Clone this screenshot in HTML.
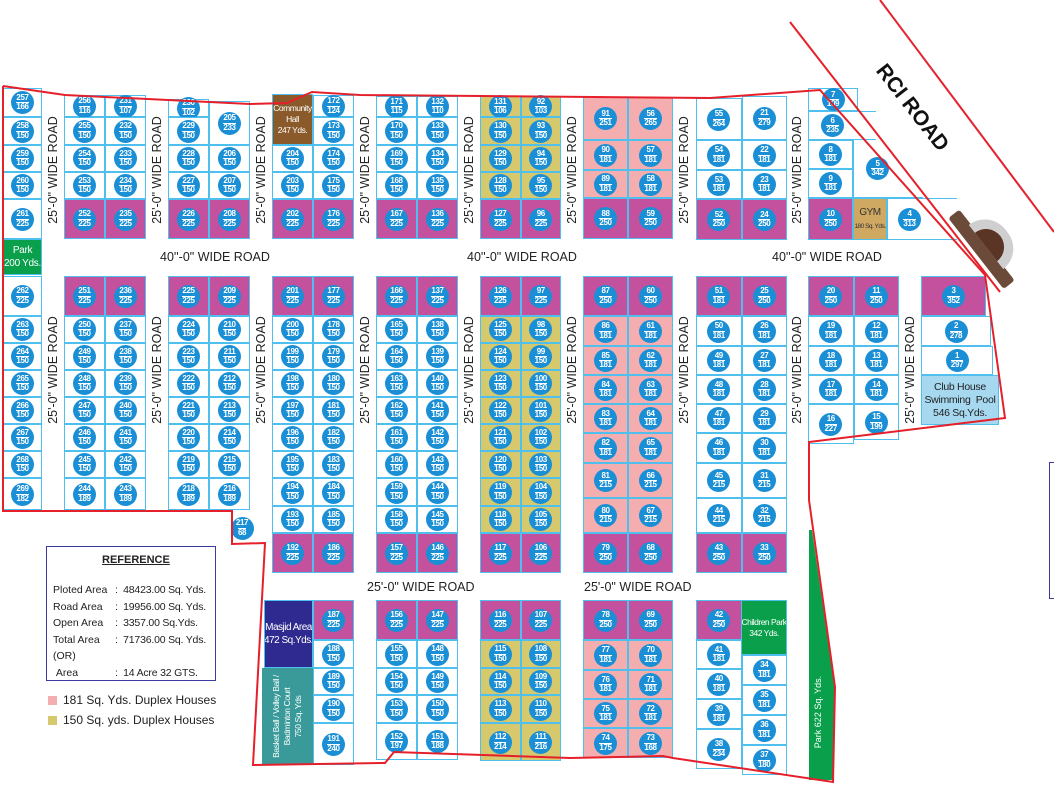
<!DOCTYPE html>
<html><head><meta charset="utf-8"><style>
body{margin:0;width:1054px;height:786px;background:#fff;position:relative;overflow:hidden;font-family:"Liberation Sans",sans-serif}
.bk{position:absolute;top:0;height:786px}
.p{position:absolute;border:1px solid #4fc0ee;box-sizing:border-box;display:flex;align-items:center;justify-content:center;background:#fff}
.l{left:0;width:50%}.r{left:50%;width:50%}.f{left:0;width:100%}
.u{background:#c3519e}.k{background:#f4aeb0}.o{background:#d6c86c}
.p b{flex-shrink:0;width:23px;height:23px;border-radius:50%;background:#1a8fd6;color:#fff;font:bold 8px "Liberation Sans",sans-serif;letter-spacing:-0.4px;display:flex;flex-direction:column;align-items:center;justify-content:center;line-height:8.5px}
.p b i{font-style:normal;border-top:1px solid #fff}
.vr{position:absolute;width:22px;height:130px;display:flex;align-items:center;justify-content:center}
.vr span{transform:rotate(-90deg);white-space:nowrap;font-size:12.5px;color:#222}
.hr{position:absolute;font-size:12.5px;color:#222;white-space:nowrap}
.t{position:absolute;display:flex;align-items:center;justify-content:center;text-align:center;box-sizing:border-box;border:1px solid #4fc0ee;color:#fff;font:9px "Liberation Sans",sans-serif;letter-spacing:-0.3px;line-height:11px;white-space:nowrap;overflow:hidden}
</style></head><body>

<!-- Column A -->
<div class="bk" style="left:3px;width:39px">
<div class="p f" style="top:88px;height:29px"><b>257<i>166</i></b></div>
<div class="p f" style="top:117px;height:28px"><b>258<i>150</i></b></div>
<div class="p f" style="top:145px;height:27px"><b>259<i>150</i></b></div>
<div class="p f" style="top:172px;height:27px"><b>260<i>150</i></b></div>
<div class="p f" style="top:199px;height:40px"><b>261<i>225</i></b></div>
<div class="t" style="left:0;top:239px;width:39px;height:36px;background:#0aa04b;font-size:10px;line-height:13px">Park<br>200 Yds.</div>
<div class="p f" style="top:276px;height:40px"><b>262<i>225</i></b></div>
<div class="p f" style="top:316px;height:27px"><b>263<i>150</i></b></div>
<div class="p f" style="top:343px;height:27px"><b>264<i>150</i></b></div>
<div class="p f" style="top:370px;height:27px"><b>265<i>150</i></b></div>
<div class="p f" style="top:397px;height:27px"><b>266<i>150</i></b></div>
<div class="p f" style="top:424px;height:27px"><b>267<i>150</i></b></div>
<div class="p f" style="top:451px;height:27px"><b>268<i>150</i></b></div>
<div class="p f" style="top:478px;height:32px"><b>269<i>182</i></b></div>
</div>

<!-- B1 -->
<div class="bk" style="left:64px;width:82px">
<div class="p l" style="top:95px;height:22px"><b>256<i>116</i></b></div>
<div class="p r" style="top:95px;height:22px"><b>231<i>107</i></b></div>
<div class="p l" style="top:117px;height:28px"><b>255<i>150</i></b></div>
<div class="p r" style="top:117px;height:28px"><b>232<i>150</i></b></div>
<div class="p l" style="top:145px;height:27px"><b>254<i>150</i></b></div>
<div class="p r" style="top:145px;height:27px"><b>233<i>150</i></b></div>
<div class="p l" style="top:172px;height:27px"><b>253<i>150</i></b></div>
<div class="p r" style="top:172px;height:27px"><b>234<i>150</i></b></div>
<div class="p l u" style="top:199px;height:40px"><b>252<i>225</i></b></div>
<div class="p r u" style="top:199px;height:40px"><b>235<i>225</i></b></div>
<div class="p l u" style="top:276px;height:40px"><b>251<i>225</i></b></div>
<div class="p r u" style="top:276px;height:40px"><b>236<i>225</i></b></div>
<div class="p l" style="top:316px;height:27px"><b>250<i>150</i></b></div>
<div class="p r" style="top:316px;height:27px"><b>237<i>150</i></b></div>
<div class="p l" style="top:343px;height:27px"><b>249<i>150</i></b></div>
<div class="p r" style="top:343px;height:27px"><b>238<i>150</i></b></div>
<div class="p l" style="top:370px;height:27px"><b>248<i>150</i></b></div>
<div class="p r" style="top:370px;height:27px"><b>239<i>150</i></b></div>
<div class="p l" style="top:397px;height:27px"><b>247<i>150</i></b></div>
<div class="p r" style="top:397px;height:27px"><b>240<i>150</i></b></div>
<div class="p l" style="top:424px;height:27px"><b>246<i>150</i></b></div>
<div class="p r" style="top:424px;height:27px"><b>241<i>150</i></b></div>
<div class="p l" style="top:451px;height:27px"><b>245<i>150</i></b></div>
<div class="p r" style="top:451px;height:27px"><b>242<i>150</i></b></div>
<div class="p l" style="top:478px;height:32px"><b>244<i>189</i></b></div>
<div class="p r" style="top:478px;height:32px"><b>243<i>189</i></b></div>
</div>

<!-- B2 -->
<div class="bk" style="left:168px;width:82px">
<div class="p l" style="top:99px;height:18px"><b>230<i>102</i></b></div>
<div class="p r" style="top:101px;height:44px"><b>205<i>233</i></b></div>
<div class="p l" style="top:117px;height:28px"><b>229<i>150</i></b></div>
<div class="p l" style="top:145px;height:27px"><b>228<i>150</i></b></div>
<div class="p r" style="top:145px;height:27px"><b>206<i>150</i></b></div>
<div class="p l" style="top:172px;height:27px"><b>227<i>150</i></b></div>
<div class="p r" style="top:172px;height:27px"><b>207<i>150</i></b></div>
<div class="p l u" style="top:199px;height:40px"><b>226<i>225</i></b></div>
<div class="p r u" style="top:199px;height:40px"><b>208<i>225</i></b></div>
<div class="p l u" style="top:276px;height:40px"><b>225<i>225</i></b></div>
<div class="p r u" style="top:276px;height:40px"><b>209<i>225</i></b></div>
<div class="p l" style="top:316px;height:27px"><b>224<i>150</i></b></div>
<div class="p r" style="top:316px;height:27px"><b>210<i>150</i></b></div>
<div class="p l" style="top:343px;height:27px"><b>223<i>150</i></b></div>
<div class="p r" style="top:343px;height:27px"><b>211<i>150</i></b></div>
<div class="p l" style="top:370px;height:27px"><b>222<i>150</i></b></div>
<div class="p r" style="top:370px;height:27px"><b>212<i>150</i></b></div>
<div class="p l" style="top:397px;height:27px"><b>221<i>150</i></b></div>
<div class="p r" style="top:397px;height:27px"><b>213<i>150</i></b></div>
<div class="p l" style="top:424px;height:27px"><b>220<i>150</i></b></div>
<div class="p r" style="top:424px;height:27px"><b>214<i>150</i></b></div>
<div class="p l" style="top:451px;height:27px"><b>219<i>150</i></b></div>
<div class="p r" style="top:451px;height:27px"><b>215<i>150</i></b></div>
<div class="p l" style="top:478px;height:32px"><b>218<i>189</i></b></div>
<div class="p r" style="top:478px;height:32px"><b>216<i>189</i></b></div>
</div>
<div class="p" style="left:230px;top:512px;width:24px;height:32px;border-color:#fff;background:transparent"><b>217<i>68</i></b></div>

<!-- B3 -->
<div class="bk" style="left:272px;width:82px">
<div class="t" style="left:0;top:94px;width:41px;height:51px;background:#8a5a2b;font-size:8.5px;letter-spacing:-0.5px">Community<br>Hall<br>247 Yds.</div>
<div class="p r" style="top:95px;height:22px"><b>172<i>124</i></b></div>
<div class="p r" style="top:117px;height:28px"><b>173<i>150</i></b></div>
<div class="p l" style="top:145px;height:27px"><b>204<i>150</i></b></div>
<div class="p r" style="top:145px;height:27px"><b>174<i>150</i></b></div>
<div class="p l" style="top:172px;height:27px"><b>203<i>150</i></b></div>
<div class="p r" style="top:172px;height:27px"><b>175<i>150</i></b></div>
<div class="p l u" style="top:199px;height:40px"><b>202<i>225</i></b></div>
<div class="p r u" style="top:199px;height:40px"><b>176<i>225</i></b></div>
<div class="p l u" style="top:276px;height:40px"><b>201<i>225</i></b></div>
<div class="p r u" style="top:276px;height:40px"><b>177<i>225</i></b></div>
<div class="p l" style="top:316px;height:27px"><b>200<i>150</i></b></div>
<div class="p r" style="top:316px;height:27px"><b>178<i>150</i></b></div>
<div class="p l" style="top:343px;height:27px"><b>199<i>150</i></b></div>
<div class="p r" style="top:343px;height:27px"><b>179<i>150</i></b></div>
<div class="p l" style="top:370px;height:27px"><b>198<i>150</i></b></div>
<div class="p r" style="top:370px;height:27px"><b>180<i>150</i></b></div>
<div class="p l" style="top:397px;height:27px"><b>197<i>150</i></b></div>
<div class="p r" style="top:397px;height:27px"><b>181<i>150</i></b></div>
<div class="p l" style="top:424px;height:27px"><b>196<i>150</i></b></div>
<div class="p r" style="top:424px;height:27px"><b>182<i>150</i></b></div>
<div class="p l" style="top:451px;height:27px"><b>195<i>150</i></b></div>
<div class="p r" style="top:451px;height:27px"><b>183<i>150</i></b></div>
<div class="p l" style="top:478px;height:28px"><b>194<i>150</i></b></div>
<div class="p r" style="top:478px;height:28px"><b>184<i>150</i></b></div>
<div class="p l" style="top:506px;height:27px"><b>193<i>150</i></b></div>
<div class="p r" style="top:506px;height:27px"><b>185<i>150</i></b></div>
<div class="p l u" style="top:533px;height:40px"><b>192<i>225</i></b></div>
<div class="p r u" style="top:533px;height:40px"><b>186<i>225</i></b></div>
<div class="t" style="left:-8px;top:600px;width:49px;height:68px;background:#2e2a8f;font-size:10px;line-height:13px;letter-spacing:-0.5px">Masjid Area<br>472 Sq.Yds.</div>
<div class="t" style="left:-10px;top:668px;width:51px;height:97px;background:#3a9a9a;border:none;overflow:visible"><div style="transform:rotate(-90deg);white-space:nowrap;font-size:8.5px;line-height:11px;letter-spacing:-0.4px">Basket Ball / Volley Ball /<br>Badminton Court<br>750 Sq. Yds</div></div>
<div class="p r u" style="top:600px;height:40px"><b>187<i>225</i></b></div>
<div class="p r" style="top:640px;height:28px"><b>188<i>150</i></b></div>
<div class="p r" style="top:668px;height:27px"><b>189<i>150</i></b></div>
<div class="p r" style="top:695px;height:28px"><b>190<i>150</i></b></div>
<div class="p r" style="top:723px;height:42px"><b>191<i>240</i></b></div>
</div>

<!-- B4 -->
<div class="bk" style="left:376px;width:82px">
<div class="p l" style="top:96px;height:21px"><b>171<i>115</i></b></div>
<div class="p r" style="top:96px;height:21px"><b>132<i>110</i></b></div>
<div class="p l" style="top:117px;height:28px"><b>170<i>150</i></b></div>
<div class="p r" style="top:117px;height:28px"><b>133<i>150</i></b></div>
<div class="p l" style="top:145px;height:27px"><b>169<i>150</i></b></div>
<div class="p r" style="top:145px;height:27px"><b>134<i>150</i></b></div>
<div class="p l" style="top:172px;height:27px"><b>168<i>150</i></b></div>
<div class="p r" style="top:172px;height:27px"><b>135<i>150</i></b></div>
<div class="p l u" style="top:199px;height:40px"><b>167<i>225</i></b></div>
<div class="p r u" style="top:199px;height:40px"><b>136<i>225</i></b></div>
<div class="p l u" style="top:276px;height:40px"><b>166<i>225</i></b></div>
<div class="p r u" style="top:276px;height:40px"><b>137<i>225</i></b></div>
<div class="p l" style="top:316px;height:27px"><b>165<i>150</i></b></div>
<div class="p r" style="top:316px;height:27px"><b>138<i>150</i></b></div>
<div class="p l" style="top:343px;height:27px"><b>164<i>150</i></b></div>
<div class="p r" style="top:343px;height:27px"><b>139<i>150</i></b></div>
<div class="p l" style="top:370px;height:27px"><b>163<i>150</i></b></div>
<div class="p r" style="top:370px;height:27px"><b>140<i>150</i></b></div>
<div class="p l" style="top:397px;height:27px"><b>162<i>150</i></b></div>
<div class="p r" style="top:397px;height:27px"><b>141<i>150</i></b></div>
<div class="p l" style="top:424px;height:27px"><b>161<i>150</i></b></div>
<div class="p r" style="top:424px;height:27px"><b>142<i>150</i></b></div>
<div class="p l" style="top:451px;height:27px"><b>160<i>150</i></b></div>
<div class="p r" style="top:451px;height:27px"><b>143<i>150</i></b></div>
<div class="p l" style="top:478px;height:28px"><b>159<i>150</i></b></div>
<div class="p r" style="top:478px;height:28px"><b>144<i>150</i></b></div>
<div class="p l" style="top:506px;height:27px"><b>158<i>150</i></b></div>
<div class="p r" style="top:506px;height:27px"><b>145<i>150</i></b></div>
<div class="p l u" style="top:533px;height:40px"><b>157<i>225</i></b></div>
<div class="p r u" style="top:533px;height:40px"><b>146<i>225</i></b></div>
<div class="p l u" style="top:600px;height:40px"><b>156<i>225</i></b></div>
<div class="p r u" style="top:600px;height:40px"><b>147<i>225</i></b></div>
<div class="p l" style="top:640px;height:28px"><b>155<i>150</i></b></div>
<div class="p r" style="top:640px;height:28px"><b>148<i>150</i></b></div>
<div class="p l" style="top:668px;height:27px"><b>154<i>150</i></b></div>
<div class="p r" style="top:668px;height:27px"><b>149<i>150</i></b></div>
<div class="p l" style="top:695px;height:28px"><b>153<i>150</i></b></div>
<div class="p r" style="top:695px;height:28px"><b>150<i>150</i></b></div>
<div class="p l" style="top:723px;height:37px"><b>152<i>197</i></b></div>
<div class="p r" style="top:723px;height:37px"><b>151<i>188</i></b></div>
</div>

<!-- B5 -->
<div class="bk" style="left:480px;width:81px">
<div class="p l o" style="top:96px;height:21px"><b>131<i>106</i></b></div>
<div class="p r o" style="top:96px;height:21px"><b>92<i>103</i></b></div>
<div class="p l o" style="top:117px;height:28px"><b>130<i>150</i></b></div>
<div class="p r o" style="top:117px;height:28px"><b>93<i>150</i></b></div>
<div class="p l o" style="top:145px;height:27px"><b>129<i>150</i></b></div>
<div class="p r o" style="top:145px;height:27px"><b>94<i>150</i></b></div>
<div class="p l o" style="top:172px;height:27px"><b>128<i>150</i></b></div>
<div class="p r o" style="top:172px;height:27px"><b>95<i>150</i></b></div>
<div class="p l u" style="top:199px;height:40px"><b>127<i>225</i></b></div>
<div class="p r u" style="top:199px;height:40px"><b>96<i>225</i></b></div>
<div class="p l u" style="top:276px;height:40px"><b>126<i>225</i></b></div>
<div class="p r u" style="top:276px;height:40px"><b>97<i>225</i></b></div>
<div class="p l o" style="top:316px;height:27px"><b>125<i>150</i></b></div>
<div class="p r o" style="top:316px;height:27px"><b>98<i>150</i></b></div>
<div class="p l o" style="top:343px;height:27px"><b>124<i>150</i></b></div>
<div class="p r o" style="top:343px;height:27px"><b>99<i>150</i></b></div>
<div class="p l o" style="top:370px;height:27px"><b>123<i>150</i></b></div>
<div class="p r o" style="top:370px;height:27px"><b>100<i>150</i></b></div>
<div class="p l o" style="top:397px;height:27px"><b>122<i>150</i></b></div>
<div class="p r o" style="top:397px;height:27px"><b>101<i>150</i></b></div>
<div class="p l o" style="top:424px;height:27px"><b>121<i>150</i></b></div>
<div class="p r o" style="top:424px;height:27px"><b>102<i>150</i></b></div>
<div class="p l o" style="top:451px;height:27px"><b>120<i>150</i></b></div>
<div class="p r o" style="top:451px;height:27px"><b>103<i>150</i></b></div>
<div class="p l o" style="top:478px;height:28px"><b>119<i>150</i></b></div>
<div class="p r o" style="top:478px;height:28px"><b>104<i>150</i></b></div>
<div class="p l o" style="top:506px;height:27px"><b>118<i>150</i></b></div>
<div class="p r o" style="top:506px;height:27px"><b>105<i>150</i></b></div>
<div class="p l u" style="top:533px;height:40px"><b>117<i>225</i></b></div>
<div class="p r u" style="top:533px;height:40px"><b>106<i>225</i></b></div>
<div class="p l u" style="top:600px;height:40px"><b>116<i>225</i></b></div>
<div class="p r u" style="top:600px;height:40px"><b>107<i>225</i></b></div>
<div class="p l o" style="top:640px;height:28px"><b>115<i>150</i></b></div>
<div class="p r o" style="top:640px;height:28px"><b>108<i>150</i></b></div>
<div class="p l o" style="top:668px;height:27px"><b>114<i>150</i></b></div>
<div class="p r o" style="top:668px;height:27px"><b>109<i>150</i></b></div>
<div class="p l o" style="top:695px;height:28px"><b>113<i>150</i></b></div>
<div class="p r o" style="top:695px;height:28px"><b>110<i>150</i></b></div>
<div class="p l o" style="top:723px;height:38px"><b>112<i>214</i></b></div>
<div class="p r o" style="top:723px;height:38px"><b>111<i>216</i></b></div>
</div>

<!-- B6 -->
<div class="bk" style="left:583px;width:90px">
<div class="p l k" style="top:97px;height:43px"><b>91<i>251</i></b></div>
<div class="p r k" style="top:97px;height:43px"><b>56<i>265</i></b></div>
<div class="p l k" style="top:140px;height:30px"><b>90<i>181</i></b></div>
<div class="p r k" style="top:140px;height:30px"><b>57<i>181</i></b></div>
<div class="p l k" style="top:170px;height:28px"><b>89<i>181</i></b></div>
<div class="p r k" style="top:170px;height:28px"><b>58<i>181</i></b></div>
<div class="p l u" style="top:198px;height:41px"><b>88<i>250</i></b></div>
<div class="p r u" style="top:198px;height:41px"><b>59<i>250</i></b></div>
<div class="p l u" style="top:276px;height:40px"><b>87<i>250</i></b></div>
<div class="p r u" style="top:276px;height:40px"><b>60<i>250</i></b></div>
<div class="p l k" style="top:316px;height:30px"><b>86<i>181</i></b></div>
<div class="p r k" style="top:316px;height:30px"><b>61<i>181</i></b></div>
<div class="p l k" style="top:346px;height:29px"><b>85<i>181</i></b></div>
<div class="p r k" style="top:346px;height:29px"><b>62<i>181</i></b></div>
<div class="p l k" style="top:375px;height:29px"><b>84<i>181</i></b></div>
<div class="p r k" style="top:375px;height:29px"><b>63<i>181</i></b></div>
<div class="p l k" style="top:404px;height:29px"><b>83<i>181</i></b></div>
<div class="p r k" style="top:404px;height:29px"><b>64<i>181</i></b></div>
<div class="p l k" style="top:433px;height:30px"><b>82<i>181</i></b></div>
<div class="p r k" style="top:433px;height:30px"><b>65<i>181</i></b></div>
<div class="p l k" style="top:463px;height:35px"><b>81<i>215</i></b></div>
<div class="p r k" style="top:463px;height:35px"><b>66<i>215</i></b></div>
<div class="p l k" style="top:498px;height:35px"><b>80<i>215</i></b></div>
<div class="p r k" style="top:498px;height:35px"><b>67<i>215</i></b></div>
<div class="p l u" style="top:533px;height:40px"><b>79<i>250</i></b></div>
<div class="p r u" style="top:533px;height:40px"><b>68<i>250</i></b></div>
<div class="p l u" style="top:600px;height:40px"><b>78<i>250</i></b></div>
<div class="p r u" style="top:600px;height:40px"><b>69<i>250</i></b></div>
<div class="p l k" style="top:640px;height:30px"><b>77<i>181</i></b></div>
<div class="p r k" style="top:640px;height:30px"><b>70<i>181</i></b></div>
<div class="p l k" style="top:670px;height:29px"><b>76<i>181</i></b></div>
<div class="p r k" style="top:670px;height:29px"><b>71<i>181</i></b></div>
<div class="p l k" style="top:699px;height:29px"><b>75<i>181</i></b></div>
<div class="p r k" style="top:699px;height:29px"><b>72<i>181</i></b></div>
<div class="p l k" style="top:728px;height:30px"><b>74<i>175</i></b></div>
<div class="p r k" style="top:728px;height:30px"><b>73<i>168</i></b></div>
</div>

<!-- B7 -->
<div class="bk" style="left:696px;width:91px">
<div class="p l" style="top:98px;height:42px"><b>55<i>264</i></b></div>
<div class="p r" style="top:96px;height:44px"><b>21<i>279</i></b></div>
<div class="p l" style="top:140px;height:30px"><b>54<i>181</i></b></div>
<div class="p r" style="top:140px;height:30px"><b>22<i>181</i></b></div>
<div class="p l" style="top:170px;height:29px"><b>53<i>181</i></b></div>
<div class="p r" style="top:170px;height:29px"><b>23<i>181</i></b></div>
<div class="p l u" style="top:199px;height:41px"><b>52<i>250</i></b></div>
<div class="p r u" style="top:199px;height:41px"><b>24<i>250</i></b></div>
<div class="p l u" style="top:276px;height:40px"><b>51<i>181</i></b></div>
<div class="p r u" style="top:276px;height:40px"><b>25<i>250</i></b></div>
<div class="p l" style="top:316px;height:30px"><b>50<i>181</i></b></div>
<div class="p r" style="top:316px;height:30px"><b>26<i>181</i></b></div>
<div class="p l" style="top:346px;height:29px"><b>49<i>181</i></b></div>
<div class="p r" style="top:346px;height:29px"><b>27<i>181</i></b></div>
<div class="p l" style="top:375px;height:29px"><b>48<i>181</i></b></div>
<div class="p r" style="top:375px;height:29px"><b>28<i>181</i></b></div>
<div class="p l" style="top:404px;height:29px"><b>47<i>181</i></b></div>
<div class="p r" style="top:404px;height:29px"><b>29<i>181</i></b></div>
<div class="p l" style="top:433px;height:30px"><b>46<i>181</i></b></div>
<div class="p r" style="top:433px;height:30px"><b>30<i>181</i></b></div>
<div class="p l" style="top:463px;height:35px"><b>45<i>215</i></b></div>
<div class="p r" style="top:463px;height:35px"><b>31<i>215</i></b></div>
<div class="p l" style="top:498px;height:35px"><b>44<i>215</i></b></div>
<div class="p r" style="top:498px;height:35px"><b>32<i>215</i></b></div>
<div class="p l u" style="top:533px;height:40px"><b>43<i>250</i></b></div>
<div class="p r u" style="top:533px;height:40px"><b>33<i>250</i></b></div>
<div class="p l u" style="top:600px;height:40px"><b>42<i>250</i></b></div>
<div class="t" style="left:45px;top:600px;width:46px;height:55px;background:#0aa04b;font-size:8.5px;letter-spacing:-0.5px">Children Park<br>342 Yds.</div>
<div class="p l" style="top:640px;height:29px"><b>41<i>181</i></b></div>
<div class="p l" style="top:669px;height:30px"><b>40<i>181</i></b></div>
<div class="p l" style="top:699px;height:30px"><b>39<i>181</i></b></div>
<div class="p l" style="top:729px;height:40px"><b>38<i>234</i></b></div>
<div class="p r" style="top:655px;height:30px"><b>34<i>181</i></b></div>
<div class="p r" style="top:685px;height:30px"><b>35<i>181</i></b></div>
<div class="p r" style="top:715px;height:30px"><b>36<i>181</i></b></div>
<div class="p r" style="top:745px;height:30px"><b>37<i>180</i></b></div>
</div>

<!-- B8 -->
<div class="p" style="left:808px;top:88px;width:50px;height:23px"><b>7<i>109</i></b></div>
<div class="p" style="left:808px;top:111px;width:68px;height:29px;justify-content:flex-start;padding-left:12px;border-right:none"><b>6<i>235</i></b></div>
<div class="p" style="left:808px;top:140px;width:45px;height:29px"><b>8<i>181</i></b></div>
<div class="p" style="left:808px;top:169px;width:45px;height:29px"><b>9<i>181</i></b></div>
<div class="p" style="left:853px;top:140px;width:70px;height:58px;border-right:none;border-top:none;justify-content:flex-start;padding-left:12px"><b>5<i>342</i></b></div>
<div class="p u" style="left:808px;top:198px;width:45px;height:42px"><b>10<i>250</i></b></div>
<div class="t" style="left:853px;top:198px;width:34px;height:42px;background:#cfa862;color:#333;letter-spacing:-0.5px"><div style="line-height:12px"><span style="font-size:10px">GYM</span><br><span style="font-size:6.5px">180 Sq. Yds.</span></div></div>
<div class="p" style="left:887px;top:198px;width:70px;height:42px;border-right:none;justify-content:flex-start;padding-left:10px"><b>4<i>313</i></b></div>

<div class="bk" style="left:808px;width:91px">
<div class="p l u" style="top:276px;height:40px"><b>20<i>250</i></b></div>
<div class="p r u" style="top:276px;height:40px"><b>11<i>250</i></b></div>
<div class="p l" style="top:316px;height:30px"><b>19<i>181</i></b></div>
<div class="p r" style="top:316px;height:30px"><b>12<i>181</i></b></div>
<div class="p l" style="top:346px;height:29px"><b>18<i>181</i></b></div>
<div class="p r" style="top:346px;height:29px"><b>13<i>181</i></b></div>
<div class="p l" style="top:375px;height:29px"><b>17<i>181</i></b></div>
<div class="p r" style="top:375px;height:29px"><b>14<i>181</i></b></div>
<div class="p l" style="top:404px;height:40px"><b>16<i>227</i></b></div>
<div class="p r" style="top:404px;height:36px"><b>15<i>199</i></b></div>
</div>

<!-- B9 -->
<div class="p u" style="left:921px;top:276px;width:65px;height:40px"><b>3<i>352</i></b></div>
<div class="p" style="left:921px;top:316px;width:70px;height:30px"><b>2<i>278</i></b></div>
<div class="p" style="left:921px;top:346px;width:72px;height:29px"><b>1<i>297</i></b></div>
<div class="t" style="left:921px;top:375px;width:78px;height:50px;background:#a6d8f0;color:#222;font-size:10.5px;line-height:13px;letter-spacing:-0.3px">Club House<br>Swimming&nbsp; Pool<br>546 Sq.Yds.</div>

<!-- Park 622 -->
<svg style="position:absolute;left:0;top:0" width="1054" height="786">
<polygon points="809,530 812,530 835,690 833,780 809,780" fill="#0aa04b"/>
</svg>
<div style="position:absolute;left:770px;top:705px;width:100px;height:14px;transform:rotate(-90deg);color:#fff;font-size:9px;text-align:center;white-space:nowrap">Park 622 Sq. Yds.</div>

<!-- club house picture -->
<div style="position:absolute;left:942px;top:215px;width:90px;height:60px;transform:rotate(52deg)">
<div style="position:absolute;left:0;top:30px;width:90px;height:14px;background:#6b4a3a;border-radius:3px"></div>
<div style="position:absolute;left:18px;top:6px;width:56px;height:26px;background:#cfcfcf;border-radius:40px 40px 0 0"></div>
<div style="position:absolute;left:28px;top:14px;width:36px;height:18px;background:#5a3526;border-radius:20px 20px 0 0"></div>
</div>

<!-- Road labels -->
<div class="vr" style="left:42px;top:105px"><span>25'-0" WIDE ROAD</span></div>
<div class="vr" style="left:146px;top:105px"><span>25'-0" WIDE ROAD</span></div>
<div class="vr" style="left:250px;top:105px"><span>25'-0" WIDE ROAD</span></div>
<div class="vr" style="left:354px;top:105px"><span>25'-0" WIDE ROAD</span></div>
<div class="vr" style="left:458px;top:105px"><span>25'-0" WIDE ROAD</span></div>
<div class="vr" style="left:561px;top:105px"><span>25'-0" WIDE ROAD</span></div>
<div class="vr" style="left:673px;top:105px"><span>25'-0" WIDE ROAD</span></div>
<div class="vr" style="left:786px;top:105px"><span>25'-0" WIDE ROAD</span></div>
<div class="vr" style="left:42px;top:305px"><span>25'-0" WIDE ROAD</span></div>
<div class="vr" style="left:146px;top:305px"><span>25'-0" WIDE ROAD</span></div>
<div class="vr" style="left:250px;top:305px"><span>25'-0" WIDE ROAD</span></div>
<div class="vr" style="left:354px;top:305px"><span>25'-0" WIDE ROAD</span></div>
<div class="vr" style="left:458px;top:305px"><span>25'-0" WIDE ROAD</span></div>
<div class="vr" style="left:561px;top:305px"><span>25'-0" WIDE ROAD</span></div>
<div class="vr" style="left:673px;top:305px"><span>25'-0" WIDE ROAD</span></div>
<div class="vr" style="left:786px;top:305px"><span>25'-0" WIDE ROAD</span></div>
<div class="vr" style="left:899px;top:305px"><span>25'-0" WIDE ROAD</span></div>
<div class="hr" style="left:160px;top:250px">40''-0" WIDE ROAD</div>
<div class="hr" style="left:467px;top:250px">40''-0" WIDE ROAD</div>
<div class="hr" style="left:772px;top:250px">40''-0" WIDE ROAD</div>
<div class="hr" style="left:367px;top:580px">25'-0" WIDE ROAD</div>
<div class="hr" style="left:584px;top:580px">25'-0" WIDE ROAD</div>
<div style="position:absolute;left:860px;top:96px;font:bold 21px 'Liberation Sans',sans-serif;color:#111;transform:rotate(52deg);white-space:nowrap">RCI ROAD</div>

<!-- boundaries -->
<svg style="position:absolute;left:0;top:0" width="1054" height="786">
<polyline fill="none" stroke="#e5202a" stroke-width="2" points="3,86 65,95 250,104 287,103 312,92 360,95 710,98 820,90 985,275 1005,418 809,442 809,500 835,687 833,782 673,758 663,756 570,758 394,752 385,763 253,765 265,543 232,544 232,511 3,511 3,86"/>
<line x1="790" y1="22" x2="1000" y2="292" stroke="#e5202a" stroke-width="2"/>
<line x1="880" y1="0" x2="1054" y2="232" stroke="#e5202a" stroke-width="2"/>
</svg>
<div style="position:absolute;left:1049px;top:462px;width:10px;height:135px;border:1px solid #3a3aa0"></div>

<!-- Legend -->
<div style="position:absolute;left:46px;top:546px;width:170px;height:135px;border:1px solid #3a3aa0;box-sizing:border-box;font-size:10.5px;color:#222;white-space:nowrap">
<div style="position:absolute;left:55px;top:7px;font-weight:bold;text-decoration:underline;font-size:11px">REFERENCE</div>
<div style="position:absolute;left:6px;top:35px;line-height:16.5px">Ploted Area<br>Road Area<br>Open Area<br>Total Area<br>(OR)<br>&nbsp;Area</div>
<div style="position:absolute;left:68px;top:35px;line-height:16.5px;letter-spacing:-0.2px">:&nbsp; 48423.00 Sq. Yds.<br>:&nbsp; 19956.00 Sq. Yds.<br>:&nbsp; 3357.00 Sq.Yds.<br>:&nbsp; 71736.00 Sq. Yds.<br>&nbsp;<br>:&nbsp; 14 Acre 32 GTS.</div>
</div>
<div style="position:absolute;left:48px;top:696px;width:9px;height:9px;background:#f4aeb0"></div>
<div style="position:absolute;left:63px;top:693px;font-size:12px;color:#222;white-space:nowrap">181 Sq. Yds. Duplex Houses</div>
<div style="position:absolute;left:48px;top:716px;width:9px;height:9px;background:#d6c86c"></div>
<div style="position:absolute;left:63px;top:713px;font-size:12px;color:#222;white-space:nowrap">150 Sq. yds. Duplex Houses</div>
</body></html>
